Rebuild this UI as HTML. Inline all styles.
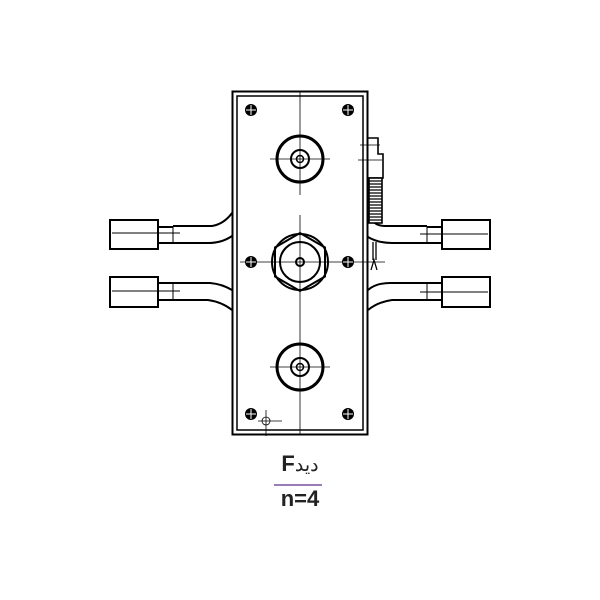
<!DOCTYPE html>
<html><head><meta charset="utf-8"><style>
body{margin:0;background:#fff;width:600px;height:600px;overflow:hidden}
.t{position:absolute;left:0;width:600px;text-align:center;font-family:"Liberation Sans","Noto Sans CJK SC",sans-serif;font-weight:bold;color:#222}
</style></head><body>
<svg width="600" height="600" style="position:absolute;left:0;top:0" fill="none" stroke="#000">
<defs>
<g id="bolt"><circle r="6" fill="#000" stroke="none"/><line x1="-5" y1="0" x2="5" y2="0" stroke="#fff" stroke-width="1"/><line x1="0" y1="-5" x2="0" y2="5" stroke="#fff" stroke-width="1"/></g>
<g id="fit"><circle r="23" stroke-width="3"/><circle r="9" stroke-width="2"/><circle r="3.5" stroke-width="1.5"/></g>
</defs>
<rect x="232.5" y="91.5" width="135" height="343" stroke-width="2"/>
<rect x="237" y="96" width="126" height="334" stroke-width="1.5"/>
<g stroke-width="0.8">
<line x1="300" y1="92" x2="300" y2="195"/>
<line x1="300" y1="215" x2="300" y2="434"/>
<line x1="270" y1="159" x2="330" y2="159"/>
<line x1="240" y1="262" x2="385" y2="262"/>
<line x1="270" y1="367" x2="330" y2="367"/>
<line x1="360" y1="145" x2="380" y2="145"/>
<line x1="358" y1="160" x2="382" y2="160"/>
</g>
<use href="#fit" x="300" y="159"/>
<use href="#fit" x="300" y="367"/>
<g transform="translate(300,262)" stroke-width="2">
<polygon points="0,-29 25,-14.5 25,14.5 0,29 -25,14.5 -25,-14.5"/>
<circle r="28"/><circle r="20"/><circle r="4"/>
</g>
<use href="#bolt" x="251" y="110"/><use href="#bolt" x="348" y="110"/>
<use href="#bolt" x="251" y="262"/><use href="#bolt" x="348" y="262"/>
<use href="#bolt" x="251" y="414"/><use href="#bolt" x="348" y="414"/>
<g stroke-width="0.8"><line x1="258" y1="421" x2="282" y2="421"/><line x1="266" y1="410" x2="266" y2="436"/><circle cx="266" cy="421" r="4"/></g>
<g stroke-width="2">
<rect x="110" y="220" width="48" height="29"/>
<rect x="110" y="277" width="48" height="30"/>
<path d="M158 227H173M158 243H173M173 226H212Q224 224 232 213M173 243H208Q222 243 232 236"/>
<path d="M158 283H173M158 300H173M173 283H210Q222 284 232 290M173 300H208Q222 302 232 310"/>
</g>
<g stroke-width="1"><line x1="112" y1="233" x2="180" y2="233"/><line x1="112" y1="291" x2="180" y2="291"/><line x1="173" y1="226" x2="173" y2="243"/><line x1="173" y1="283" x2="173" y2="300"/></g>
<g stroke-width="2">
<rect x="442" y="220" width="48" height="29"/>
<rect x="442" y="277" width="48" height="30"/>
<path d="M427 227H442M427 243H442M427 226H385Q376 226 372 220M427 243H392Q378 243 368 237"/>
<path d="M427 283H442M427 300H442M427 283H390Q376 283 368 290M427 300H392Q378 302 368 310"/>
</g>
<g stroke-width="1"><line x1="420" y1="234" x2="488" y2="234"/><line x1="420" y1="292" x2="488" y2="292"/><line x1="427" y1="226" x2="427" y2="243"/><line x1="427" y1="283" x2="427" y2="300"/></g>
<g stroke-width="1.6">
<path d="M368 138H378V154H383V178H368"/>
<rect x="369" y="178" width="13" height="45" fill="#fff"/>
</g>
<g stroke-width="1.3">
<path d="M369 181h13M369 184h13M369 187h13M369 190h13M369 193h13M369 196h13M369 199h13M369 202h13M369 205h13M369 208h13M369 211h13M369 214h13M369 217h13M369 220h13"/>
<path d="M373 242V260M376 242V260M371 270L374 260L377 270"/>
</g>
<line x1="274" y1="485" x2="322" y2="485" stroke="#9b7bb8" stroke-width="2"/>
</svg>
<div class="t" style="top:451px;font-size:22px">F<span style="font-weight:normal;font-size:19px">دید</span></div>
<div class="t" style="top:486px;font-size:22px">n=4</div>
</body></html>
